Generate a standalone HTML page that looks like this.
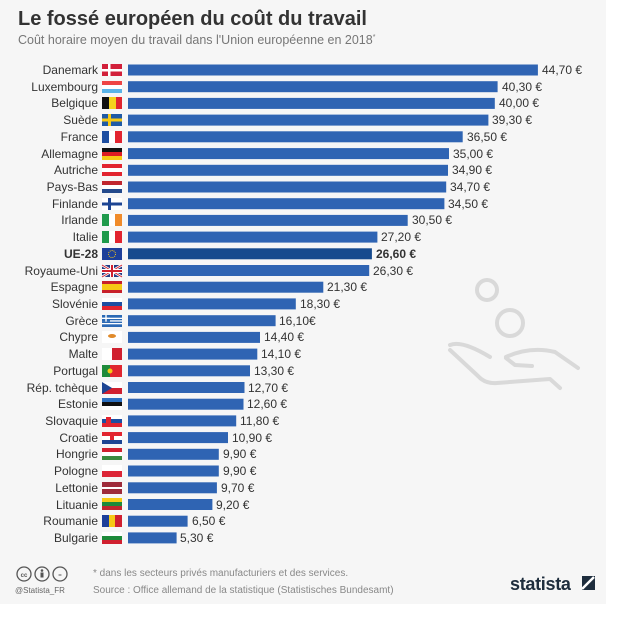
<!DOCTYPE html>
<html><head><meta charset="utf-8"><style>
body{margin:0;background:#fff;}
svg{display:block;font-family:"Liberation Sans",sans-serif;}
</style></head><body>
<svg width="644" height="620" viewBox="0 0 644 620">
<rect x="0" y="0" width="606" height="604" fill="#f6f6f6"/>
<text x="18" y="25" font-size="20" font-weight="bold" fill="#333">Le fossé européen du coût du travail</text>
<text x="18" y="44" font-size="12.5" fill="#777">Coût horaire moyen du travail dans l'Union européenne en 2018<tspan font-size="7" dy="-5">*</tspan></text>
<!-- hand icon -->
<g fill="none" stroke="#d9d9d9" stroke-width="4" stroke-linecap="round" stroke-linejoin="round">
<circle cx="487" cy="290" r="10"/>
<circle cx="510" cy="323" r="13"/>
<path d="M450 345 Q462 340 490 357"/>
<path d="M506 357 Q530 346 555 352 L578 368"/>
<path d="M506 358 L515 365 L532 366"/>
<path d="M450 350 L478 376 Q485 384 497 383 L550 379 L560 388"/>
</g>
<g font-size="12" fill="#333">
<g text-anchor="end">
<text x="98" y="74">Danemark</text><text x="98" y="91">Luxembourg</text><text x="98" y="107">Belgique</text><text x="98" y="124">Suède</text><text x="98" y="141">France</text><text x="98" y="158">Allemagne</text><text x="98" y="174">Autriche</text><text x="98" y="191">Pays-Bas</text><text x="98" y="208">Finlande</text><text x="98" y="224">Irlande</text><text x="98" y="241">Italie</text><text x="98" y="258" font-weight="bold">UE-28</text><text x="98" y="275">Royaume-Uni</text><text x="98" y="291">Espagne</text><text x="98" y="308">Slovénie</text><text x="98" y="325">Grèce</text><text x="98" y="341">Chypre</text><text x="98" y="358">Malte</text><text x="98" y="375">Portugal</text><text x="98" y="392">Rép. tchèque</text><text x="98" y="408">Estonie</text><text x="98" y="425">Slovaquie</text><text x="98" y="442">Croatie</text><text x="98" y="458">Hongrie</text><text x="98" y="475">Pologne</text><text x="98" y="492">Lettonie</text><text x="98" y="509">Lituanie</text><text x="98" y="525">Roumanie</text><text x="98" y="542">Bulgarie</text>
</g>
<g fill="#2f64b3">
<rect x="128" y="64.5" width="409.9" height="11"/><rect x="128" y="81.2" width="369.6" height="11"/><rect x="128" y="97.9" width="366.8" height="11"/><rect x="128" y="114.6" width="360.4" height="11"/><rect x="128" y="131.3" width="334.7" height="11"/><rect x="128" y="148.1" width="321" height="11"/><rect x="128" y="164.8" width="320" height="11"/><rect x="128" y="181.5" width="318.2" height="11"/><rect x="128" y="198.2" width="316.4" height="11"/><rect x="128" y="214.9" width="279.7" height="11"/><rect x="128" y="231.6" width="249.4" height="11"/><rect x="128" y="248.3" width="243.9" height="11" fill="#164a8e"/><rect x="128" y="265" width="241.2" height="11"/><rect x="128" y="281.7" width="195.3" height="11"/><rect x="128" y="298.4" width="167.8" height="11"/><rect x="128" y="315.2" width="147.6" height="11"/><rect x="128" y="331.9" width="132" height="11"/><rect x="128" y="348.6" width="129.3" height="11"/><rect x="128" y="365.3" width="122" height="11"/><rect x="128" y="382" width="116.5" height="11"/><rect x="128" y="398.7" width="115.5" height="11"/><rect x="128" y="415.4" width="108.2" height="11"/><rect x="128" y="432.1" width="100" height="11"/><rect x="128" y="448.8" width="90.8" height="11"/><rect x="128" y="465.5" width="90.8" height="11"/><rect x="128" y="482.3" width="88.9" height="11"/><rect x="128" y="499" width="84.4" height="11"/><rect x="128" y="515.7" width="59.6" height="11"/><rect x="128" y="532.4" width="48.6" height="11"/>
</g>
<text x="542" y="74">44,70 €</text><text x="502" y="91">40,30 €</text><text x="499" y="107">40,00 €</text><text x="492" y="124">39,30 €</text><text x="467" y="141">36,50 €</text><text x="453" y="158">35,00 €</text><text x="452" y="174">34,90 €</text><text x="450" y="191">34,70 €</text><text x="448" y="208">34,50 €</text><text x="412" y="224">30,50 €</text><text x="381" y="241">27,20 €</text><text x="376" y="258" font-weight="bold">26,60 €</text><text x="373" y="275">26,30 €</text><text x="327" y="291">21,30 €</text><text x="300" y="308">18,30 €</text><text x="279" y="325">16,10€</text><text x="264" y="341">14,40 €</text><text x="261" y="358">14,10 €</text><text x="254" y="375">13,30 €</text><text x="248" y="392">12,70 €</text><text x="247" y="408">12,60 €</text><text x="240" y="425">11,80 €</text><text x="232" y="442">10,90 €</text><text x="223" y="458">9,90 €</text><text x="223" y="475">9,90 €</text><text x="221" y="492">9,70 €</text><text x="216" y="509">9,20 €</text><text x="192" y="525">6,50 €</text><text x="180" y="542">5,30 €</text>
</g>
<!-- flags -->
<g>
<g transform="translate(102,64)"><rect width="20" height="12" fill="#d2203a"/><rect x="6" width="2.5" height="12" fill="#fff"/><rect y="5" width="20" height="2.5" fill="#fff"/></g>
<g transform="translate(102,81)"><rect width="20" height="4" fill="#e44"/><rect y="4" width="20" height="4" fill="#fff"/><rect y="8" width="20" height="4" fill="#5ab4e8"/></g>
<g transform="translate(102,97)"><rect width="7" height="12" fill="#111"/><rect x="7" width="7" height="12" fill="#f5d31c"/><rect x="14" width="6" height="12" fill="#e0262f"/></g>
<g transform="translate(102,114)"><rect width="20" height="12" fill="#1f5aa6"/><rect x="6" width="3" height="12" fill="#f6c915"/><rect y="4.5" width="20" height="3" fill="#f6c915"/></g>
<g transform="translate(102,131)"><rect width="7" height="12" fill="#1d4ea1"/><rect x="7" width="6" height="12" fill="#fff"/><rect x="13" width="7" height="12" fill="#e2242f"/></g>
<g transform="translate(102,148)"><rect width="20" height="4" fill="#111"/><rect y="4" width="20" height="4" fill="#dd1c23"/><rect y="8" width="20" height="4" fill="#f6c915"/></g>
<g transform="translate(102,164)"><rect width="20" height="12" fill="#e2242f"/><rect y="4" width="20" height="4" fill="#fff"/></g>
<g transform="translate(102,181)"><rect width="20" height="4" fill="#c0262e"/><rect y="4" width="20" height="4" fill="#fff"/><rect y="8" width="20" height="4" fill="#244a8c"/></g>
<g transform="translate(102,198)"><rect width="20" height="12" fill="#fff"/><rect x="6" width="3" height="12" fill="#1d4593"/><rect y="4.5" width="20" height="3" fill="#1d4593"/></g>
<g transform="translate(102,214)"><rect width="7" height="12" fill="#1f9a4b"/><rect x="7" width="6" height="12" fill="#fff"/><rect x="13" width="7" height="12" fill="#f08b2a"/></g>
<g transform="translate(102,231)"><rect width="7" height="12" fill="#1f9a4b"/><rect x="7" width="6" height="12" fill="#fff"/><rect x="13" width="7" height="12" fill="#e2242f"/></g>
<g transform="translate(102,248)"><rect width="20" height="12" fill="#1d3f9a"/><circle cx="10" cy="6" r="3.5" fill="none" stroke="#f6c915" stroke-width="1" stroke-dasharray="1 1"/></g>
<g transform="translate(102,265)"><rect width="20" height="12" fill="#253d85"/><path d="M0 0L20 12M20 0L0 12" stroke="#fff" stroke-width="2.5"/><path d="M0 0L20 12M20 0L0 12" stroke="#d0202f" stroke-width="1"/><rect x="8" width="4" height="12" fill="#fff"/><rect y="4" width="20" height="4" fill="#fff"/><rect x="9" width="2" height="12" fill="#d0202f"/><rect y="5" width="20" height="2" fill="#d0202f"/></g>
<g transform="translate(102,281)"><rect width="20" height="12" fill="#c8202a"/><rect y="3" width="20" height="6" fill="#f6c915"/></g>
<g transform="translate(102,298)"><rect width="20" height="4" fill="#fff"/><rect y="4" width="20" height="4" fill="#1d4ea1"/><rect y="8" width="20" height="4" fill="#e2242f"/></g>
<g transform="translate(102,315)"><rect width="20" height="12" fill="#2b69b5"/><rect y="2.7" width="20" height="1.3" fill="#fff"/><rect y="5.3" width="20" height="1.3" fill="#fff"/><rect y="8" width="20" height="1.3" fill="#fff"/><rect width="8" height="6.6" fill="#2b69b5"/><rect x="3.3" width="1.4" height="6.6" fill="#fff"/><rect y="2.6" width="8" height="1.4" fill="#fff"/></g>
<g transform="translate(102,331)"><rect width="20" height="12" fill="#fff"/><ellipse cx="10" cy="5" rx="4" ry="2" fill="#e08a2a"/></g>
<g transform="translate(102,348)"><rect width="10" height="12" fill="#fff"/><rect x="10" width="10" height="12" fill="#d0202f"/></g>
<g transform="translate(102,365)"><rect width="8" height="12" fill="#1d8a3a"/><rect x="8" width="12" height="12" fill="#e0262f"/><circle cx="8" cy="6" r="2.5" fill="#f6c915"/></g>
<g transform="translate(102,382)"><rect width="20" height="6" fill="#fff"/><rect y="6" width="20" height="6" fill="#d0202f"/><path d="M0 0L10 6L0 12Z" fill="#1d4593"/></g>
<g transform="translate(102,398)"><rect width="20" height="4" fill="#2b6fc0"/><rect y="4" width="20" height="4" fill="#111"/><rect y="8" width="20" height="4" fill="#fff"/></g>
<g transform="translate(102,415)"><rect width="20" height="4" fill="#fff"/><rect y="4" width="20" height="4" fill="#1d4ea1"/><rect y="8" width="20" height="4" fill="#e2242f"/><rect x="4" y="2" width="5" height="7" fill="#e2242f"/></g>
<g transform="translate(102,432)"><rect width="20" height="4" fill="#e2242f"/><rect y="4" width="20" height="4" fill="#fff"/><rect y="8" width="20" height="4" fill="#1d4593"/><rect x="8" y="2" width="4" height="6" fill="#e2242f"/></g>
<g transform="translate(102,448)"><rect width="20" height="4" fill="#d0202f"/><rect y="4" width="20" height="4" fill="#fff"/><rect y="8" width="20" height="4" fill="#3a8a3f"/></g>
<g transform="translate(102,465)"><rect width="20" height="6" fill="#fff"/><rect y="6" width="20" height="6" fill="#dc2536"/></g>
<g transform="translate(102,482)"><rect width="20" height="12" fill="#9e2b3a"/><rect y="5" width="20" height="2" fill="#fff"/></g>
<g transform="translate(102,498)"><rect width="20" height="4" fill="#f6c915"/><rect y="4" width="20" height="4" fill="#1d8a3a"/><rect y="8" width="20" height="4" fill="#c0262e"/></g>
<g transform="translate(102,515)"><rect width="7" height="12" fill="#1d3f9a"/><rect x="7" width="6" height="12" fill="#f6c915"/><rect x="13" width="7" height="12" fill="#d0202f"/></g>
<g transform="translate(102,532)"><rect width="20" height="4" fill="#fff"/><rect y="4" width="20" height="4" fill="#1d8a3a"/><rect y="8" width="20" height="4" fill="#d0202f"/></g>
</g>
<!-- footer -->
<g fill="none" stroke="#555" stroke-width="1.3">
<circle cx="24" cy="574" r="7"/><circle cx="42" cy="574" r="7"/><circle cx="60" cy="574" r="7"/>
</g>
<text x="24" y="577" font-size="6" text-anchor="middle" fill="#555" font-weight="bold">cc</text>
<circle cx="42" cy="570.5" r="1.3" fill="#555"/><rect x="40.5" y="572.5" width="3" height="5" fill="#555"/>
<text x="60" y="577" font-size="6" text-anchor="middle" fill="#555">=</text>
<text x="15" y="593" font-size="8" fill="#666">@Statista_FR</text>
<text x="93" y="576" font-size="10" fill="#888">* dans les secteurs privés manufacturiers et des services.</text>
<text x="93" y="593" font-size="10" fill="#888">Source : Office allemand de la statistique (Statistisches Bundesamt)</text>
<text x="510" y="590" font-size="18" font-weight="bold" fill="#1e2d3d" letter-spacing="-0.3">statista</text>
<path d="M582 576 L595 576 L595 590 L582 590 Z" fill="#1e2d3d"/>
<path d="M582 589 L594 577" stroke="#fff" stroke-width="2.5"/>
</svg>
</body></html>
